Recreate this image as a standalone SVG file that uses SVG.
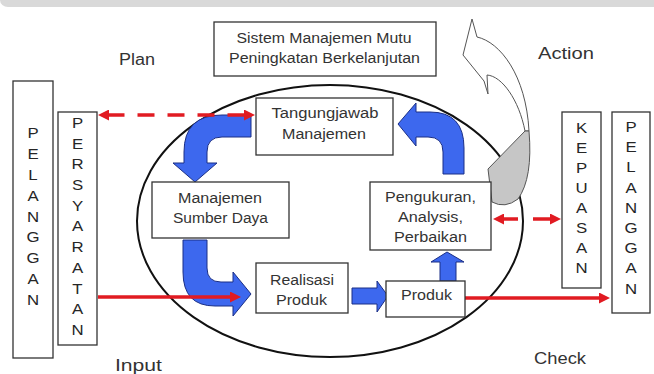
<svg xmlns="http://www.w3.org/2000/svg" width="654" height="374" viewBox="0 0 654 374">
<defs>
<style>
.box{fill:#fff;stroke:#333;stroke-width:1.3}
.t{font-family:"Liberation Sans",Arial,sans-serif;font-size:14px;fill:#333;text-anchor:middle}
.lbl{font-family:"Liberation Sans",Arial,sans-serif;font-size:16px;fill:#333}
.v{font-family:"Liberation Sans",Arial,sans-serif;font-size:14px;fill:#262626;text-anchor:middle}
.blue{fill:#3d68ee;stroke:#1b2f86;stroke-width:1}
.red{fill:none;stroke:#e11b22;stroke-width:3.5}
</style>
<marker id="rh" viewBox="0 0 10 10" refX="5" refY="5" markerWidth="13" markerHeight="11" markerUnits="userSpaceOnUse" orient="auto-start-reverse"><path d="M0,0 L10,5 L0,10 Z" fill="#e11b22"/></marker>
</defs>
<rect width="654" height="374" fill="#fff"/>
<path d="M0 0 H654 V7 H8 A8 7 0 0 1 0 0 Z" fill="#d9d9d9"/>
<ellipse cx="330" cy="221" rx="193" ry="136" fill="none" stroke="#111" stroke-width="2"/>
<g id="connectors">
<path class="blue" d="M251 115 L222 115 Q184 115 184 152 L184 163 L173 163 L195 182 L217 163 L207 163 L207 152 Q207 137 222 137 L251 137 Z"/>
<path class="blue" d="M183 240 L207 240 L207 268 Q207 282 221 282 L233 282 L233 272 L251 294 L233 316 L233 306 L215 306 Q183 306 183 272 Z"/>
<path class="blue" d="M352 288 L377 288 L377 281 L388 296 L377 312 L377 304 L352 304 Z"/>
<path class="blue" d="M440 281 L440 262 L431 262 L447 252 L464 262 L456 262 L456 281 Z"/>
<path class="blue" d="M443 174 L443 152 Q443 137 428 137 L416 137 L416 146 L398 124 L416 103 L416 112 L430 112 Q464 112 464 148 L464 174 Z"/>
<line class="red" x1="98" y1="297" x2="235.5" y2="297" marker-end="url(#rh)"/>
<line class="red" x1="465" y1="298" x2="604.5" y2="298" marker-end="url(#rh)"/>
<line class="red" x1="103.5" y1="115" x2="249.5" y2="115" stroke-dasharray="17 13" stroke-dashoffset="-4" marker-start="url(#rh)" marker-end="url(#rh)"/>
<line class="red" x1="498.5" y1="219" x2="555.5" y2="219" stroke-dasharray="19.5 15 40" marker-start="url(#rh)" marker-end="url(#rh)"/>
</g>
<g id="gray-arrow">
<path d="M472 19 L463 55 L484 81 L488 94 L487 75 C502 76 519 100 525 131 L529 131 C526 75 500 42 477 37 Z" fill="#fff" stroke="#555" stroke-width="1"/>
<path d="M488 169 L525 131 L529 131 Q533 178 518 199 Q505 209 492 202 Z" fill="#c6c6c6" stroke="#555" stroke-width="1"/>
</g>
<g id="title">
<rect class="box" x="214" y="22" width="222" height="54"/>
<text class="t" x="324" y="43" font-size="15" textLength="175" lengthAdjust="spacingAndGlyphs">Sistem Manajemen Mutu</text>
<text class="t" x="324.5" y="63" font-size="15" textLength="191" lengthAdjust="spacingAndGlyphs">Peningkatan Berkelanjutan</text>
</g>
<text class="lbl" x="119" y="65" textLength="36" lengthAdjust="spacingAndGlyphs">Plan</text>
<text class="lbl" x="538" y="59" textLength="56" lengthAdjust="spacingAndGlyphs">Action</text>
<text class="lbl" x="115" y="371" textLength="47" lengthAdjust="spacingAndGlyphs">Input</text>
<text class="lbl" x="534" y="364" textLength="52" lengthAdjust="spacingAndGlyphs">Check</text>
<g id="pelanggan-left">
<rect class="box" x="13" y="81" width="40" height="277"/>
<g transform="translate(33 0) scale(1.2 1)">
<text class="v" x="0" y="138">P<tspan x="0" dy="20.9">E</tspan><tspan x="0" dy="20.9">L</tspan><tspan x="0" dy="20.9">A</tspan><tspan x="0" dy="20.9">N</tspan><tspan x="0" dy="20.9">G</tspan><tspan x="0" dy="20.9">G</tspan><tspan x="0" dy="20.9">A</tspan><tspan x="0" dy="20.9">N</tspan></text>
</g>
</g>
<g id="persyaratan">
<rect class="box" x="58" y="112" width="39" height="233"/>
<g transform="translate(77.5 0) scale(1.2 1)">
<text class="v" x="0" y="128">P<tspan x="0" dy="20.7">E</tspan><tspan x="0" dy="20.7">R</tspan><tspan x="0" dy="20.7">S</tspan><tspan x="0" dy="20.7">Y</tspan><tspan x="0" dy="20.7">A</tspan><tspan x="0" dy="20.7">R</tspan><tspan x="0" dy="20.7">A</tspan><tspan x="0" dy="20.7">T</tspan><tspan x="0" dy="20.7">A</tspan><tspan x="0" dy="20.7">N</tspan></text>
</g>
</g>
<g id="kepuasan">
<rect class="box" x="562" y="112" width="39" height="176"/>
<g transform="translate(581.5 0) scale(1.2 1)">
<text class="v" x="0" y="133">K<tspan x="0" dy="20">E</tspan><tspan x="0" dy="20">P</tspan><tspan x="0" dy="20">U</tspan><tspan x="0" dy="20">A</tspan><tspan x="0" dy="20">S</tspan><tspan x="0" dy="20">A</tspan><tspan x="0" dy="20">N</tspan></text>
</g>
</g>
<g id="pelanggan-right">
<rect class="box" x="612" y="112" width="38" height="201"/>
<g transform="translate(631 0) scale(1.2 1)">
<text class="v" x="0" y="132">P<tspan x="0" dy="20.2">E</tspan><tspan x="0" dy="20.2">L</tspan><tspan x="0" dy="20.2">A</tspan><tspan x="0" dy="20.2">N</tspan><tspan x="0" dy="20.2">G</tspan><tspan x="0" dy="20.2">G</tspan><tspan x="0" dy="20.2">A</tspan><tspan x="0" dy="20.2">N</tspan></text>
</g>
</g>
<g id="tanggungjawab">
<rect class="box" x="256" y="98" width="137" height="57"/>
<text class="t" x="325" y="118" textLength="107" lengthAdjust="spacingAndGlyphs">Tangungjawab</text>
<text class="t" x="324" y="139" textLength="84" lengthAdjust="spacingAndGlyphs">Manajemen</text>
</g>
<g id="sumber-daya">
<rect class="box" x="152" y="182" width="137" height="56"/>
<text class="t" x="220" y="203" textLength="84" lengthAdjust="spacingAndGlyphs">Manajemen</text>
<text class="t" x="220.5" y="223" textLength="95" lengthAdjust="spacingAndGlyphs">Sumber Daya</text>
</g>
<g id="realisasi">
<rect class="box" x="256" y="263" width="92" height="50"/>
<text class="t" x="302" y="285" textLength="64" lengthAdjust="spacingAndGlyphs">Realisasi</text>
<text class="t" x="301.5" y="305" textLength="51" lengthAdjust="spacingAndGlyphs">Produk</text>
</g>
<g id="produk">
<rect class="box" x="386" y="281" width="79" height="36"/>
<text class="t" x="426.5" y="300" textLength="51" lengthAdjust="spacingAndGlyphs">Produk</text>
</g>
<g id="pengukuran">
<rect class="box" x="370" y="182" width="121" height="68"/>
<text class="t" x="430.5" y="202" textLength="91" lengthAdjust="spacingAndGlyphs">Pengukuran,</text>
<text class="t" x="430.5" y="222" textLength="65" lengthAdjust="spacingAndGlyphs">Analysis,</text>
<text class="t" x="430.5" y="242" textLength="73" lengthAdjust="spacingAndGlyphs">Perbaikan</text>
</g>
</svg>
